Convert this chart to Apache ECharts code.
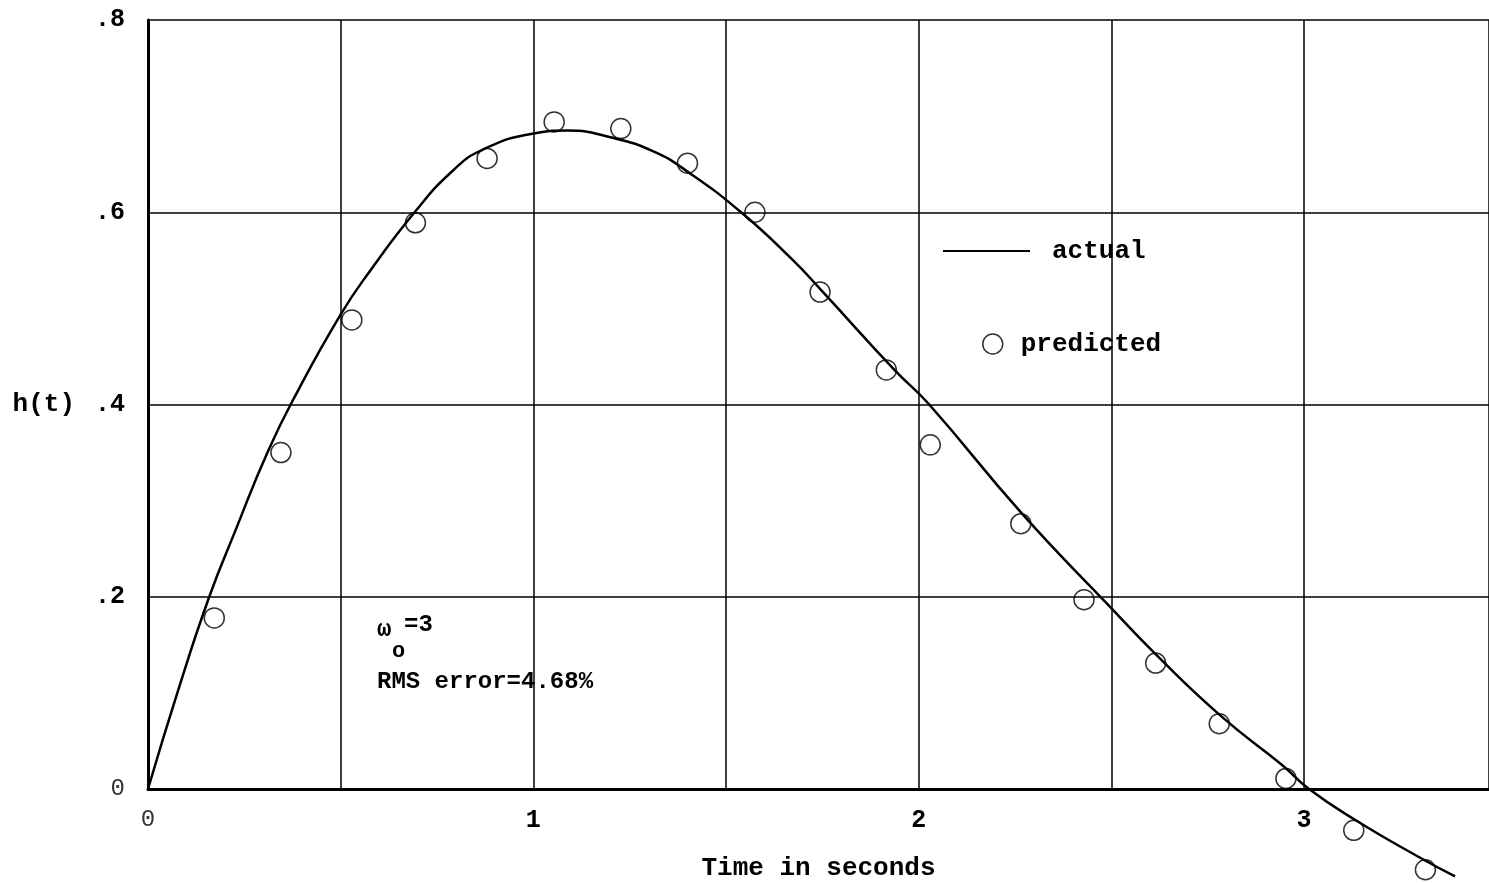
<!DOCTYPE html>
<html><head><meta charset="utf-8">
<script src="https://cdn.jsdelivr.net/npm/echarts@6/dist/echarts.min.js"></script>
<style>html,body{margin:0;padding:0;background:#fff}#c{width:1489px;height:883px}</style>
</head><body><div id="c"></div>
<script>
// "actual" curve h(t)
const actualT = [0, 0.08, 0.159, 0.226, 0.312, 0.39, 0.499, 0.569, 0.694, 0.793, 0.868, 1.001, 1.089, 1.2, 1.313, 1.401, 1.539, 1.669, 1.747, 1.937, 2.025, 2.267, 2.493, 2.618, 2.787, 2.943, 3.013, 3.132, 3.299, 3.392];
const actualH = [0, 0.105, 0.2, 0.268, 0.352, 0.415, 0.493, 0.535, 0.601, 0.644, 0.665, 0.682, 0.685, 0.678, 0.663, 0.642, 0.600, 0.552, 0.519, 0.436, 0.401, 0.287, 0.191, 0.139, 0.075, 0.025, 0.0, -0.032, -0.071, -0.091];
// "predicted" points
const predT = [0.172, 0.345, 0.529, 0.694, 0.880, 1.054, 1.227, 1.400, 1.575, 1.744, 1.916, 2.030, 2.265, 2.429, 2.615, 2.780, 2.953, 3.129, 3.315];
const predH = [0.178, 0.350, 0.488, 0.589, 0.656, 0.694, 0.687, 0.651, 0.600, 0.517, 0.436, 0.358, 0.276, 0.197, 0.131, 0.068, 0.011, -0.043, -0.084];
// tick labels
const xTickValues = [0, 1, 2, 3];
const xTickLabels = ['0', '1', '2', '3'];
const yTickValues = [0, 0.2, 0.4, 0.6, 0.8];
const yTickLabels = ['0', '.2', '.4', '.6', '.8'];

const F = '"Liberation Mono", "DejaVu Sans Mono", monospace';
const chart = echarts.init(document.getElementById('c'));
function findIdx(vals, v){ for (let i=0;i<vals.length;i++){ if (Math.abs(vals[i]-v)<1e-6) return i; } return -1; }
chart.setOption({
  animation: false,
  backgroundColor: '#fff',
  grid: {left: 148, right: 0, top: 20, bottom: 94, containLabel: false, outerBoundsMode: 'none'},
  legend: [
    {data: [{name: 'actual', icon: 'rect', itemStyle: {color: '#000'}}], left: 938, top: 233, itemWidth: 87, itemHeight: 2,
     textStyle: {fontFamily: F, fontSize: 26, fontWeight: 'bold', color: '#000', padding: [0, 0, 0, 17]}},
    {data: [{name: 'predicted', icon: 'circle', itemStyle: {color: 'rgba(0,0,0,0)', borderColor: '#000', borderWidth: 1.5}}], left: 977, top: 326, itemWidth: 20, itemHeight: 20,
     textStyle: {fontFamily: F, fontSize: 26, fontWeight: 'bold', color: '#000', padding: [0, 0, 0, 13]}}
  ],
  xAxis: {
    type: 'value', min: 0, max: 3.48, interval: 0.5,
    axisLine: {show: true, onZero: false, lineStyle: {color: '#000', width: 3}},
    axisTick: {show: false},
    splitLine: {show: true, lineStyle: {color: '#000', width: 1.5}},
    axisLabel: {margin: 19, fontFamily: F, fontSize: 25, fontWeight: 'bold', color: '#000', showMaxLabel: false,
      formatter: v => { const i = findIdx(xTickValues, v); if (i < 0) return ''; return i === 0 ? '{z|' + xTickLabels[i] + '}' : xTickLabels[i]; },
      rich: {z: {fontFamily: F, fontSize: 24, fontWeight: 'normal', color: '#333'}}},
    name: 'Time in seconds', nameLocation: 'middle', nameGap: 66,
    nameTextStyle: {fontFamily: F, fontSize: 26, fontWeight: 'bold', color: '#000'}
  },
  yAxis: {
    type: 'value', min: 0, max: 0.8, interval: 0.2,
    axisLine: {show: true, lineStyle: {color: '#000', width: 3}},
    axisTick: {show: false},
    splitLine: {show: true, lineStyle: {color: '#000', width: 1.5}},
    axisLabel: {margin: 23, fontFamily: F, fontSize: 25, fontWeight: 'bold', color: '#000',
      formatter: v => { const i = findIdx(yTickValues, v); if (i < 0) return ''; return i === 0 ? '{z|' + yTickLabels[i] + '}' : yTickLabels[i]; },
      rich: {z: {fontFamily: F, fontSize: 24, fontWeight: 'normal', color: '#333'}}},
    name: 'h(t)', nameLocation: 'middle', nameRotate: 0, nameGap: 73,
    nameTextStyle: {fontFamily: F, fontSize: 26, fontWeight: 'bold', color: '#000', padding: [20, 0, 0, 0]}
  },
  series: [
    {name: 'actual', type: 'line', smooth: 0.5, showSymbol: false, clip: false, color: '#000',
     lineStyle: {color: '#000', width: 2.5},
     data: actualT.map((t, i) => [t, actualH[i]])},
    {name: 'predicted', type: 'scatter', symbol: 'circle', symbolSize: 20, clip: false,
     itemStyle: {color: 'rgba(0,0,0,0)', borderColor: '#000', borderWidth: 1.5},
     data: predT.map((t, i) => [t, predH[i]])}
  ],
  graphic: [
    {type: 'text', left: 377, top: 618, style: {text: 'ω', fontFamily: F, fontSize: 24, fontWeight: 'bold', fill: '#000'}},
    {type: 'text', left: 392, top: 640, style: {text: 'o', fontFamily: F, fontSize: 22, fontWeight: 'bold', fill: '#000'}},
    {type: 'text', left: 404, top: 613, style: {text: '=3', fontFamily: F, fontSize: 24, fontWeight: 'bold', fill: '#000'}},
    {type: 'text', left: 377, top: 670, style: {text: 'RMS error=4.68%', fontFamily: F, fontSize: 24, fontWeight: 'bold', fill: '#000'}}
  ]
});
</script></body></html>
